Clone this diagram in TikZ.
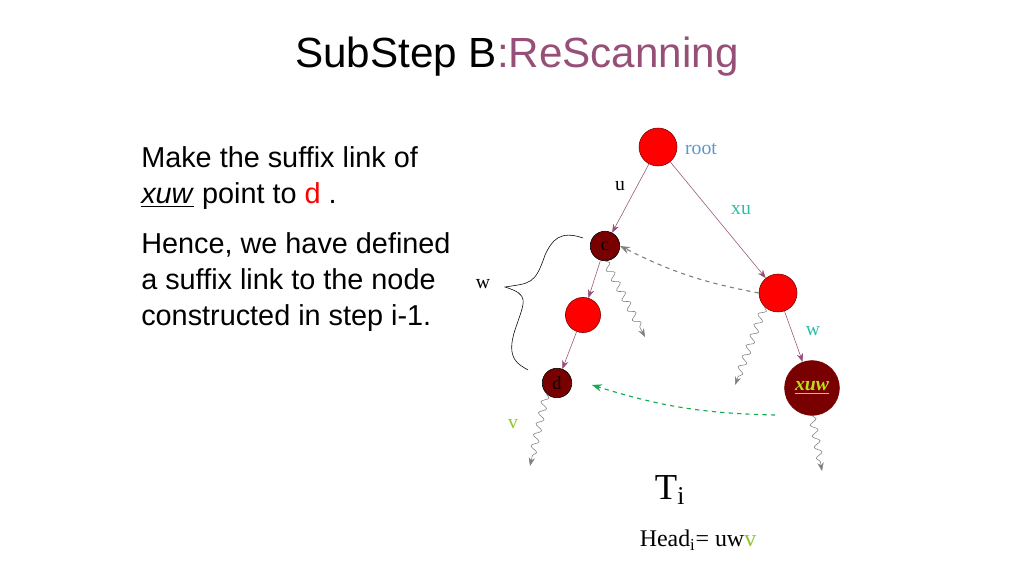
\documentclass[tikz,border=0pt]{standalone}
\usepackage{fontspec}
\setmainfont{Liberation Serif}
\newfontfamily\arial{Liberation Sans}
\usetikzlibrary{decorations.pathmorphing,arrows.meta}
\definecolor{edgecol}{RGB}{150,80,120}
\definecolor{dred}{RGB}{120,0,0}
\definecolor{rootblue}{RGB}{90,150,210}
\definecolor{tealc}{RGB}{40,190,170}
\definecolor{vgreen}{RGB}{140,200,40}
\definecolor{lgreen}{RGB}{20,170,80}
\tikzset{
  rnode/.style={circle,draw=dred,fill=red,inner sep=0pt,minimum size=27pt},
  dnode/.style={circle,draw=black,fill=dred,inner sep=0pt,minimum size=21pt,font=\fontsize{13}{13}\selectfont},
  edge/.style={draw=edgecol,-{Stealth[length=6pt]}},
  snake/.style={draw=gray,-{Stealth[length=6pt]},decorate,decoration={snake,amplitude=2.5pt,segment length=8pt,post length=6pt}},
  lbl/.style={font=\fontsize{14}{14}\selectfont},
  txt/.style={font=\arial\fontsize{20.5}{20.5}\selectfont,anchor=base west,inner sep=0pt}
}
\begin{document}
\begin{tikzpicture}[x=0.025cm,y=-0.025cm]
  \useasboundingbox (0,0) rectangle (1024,576);
  % title
  \node[font=\arial\fontsize{30}{30}\selectfont] (title) at (517,57) {SubStep B\textcolor{edgecol}{:ReScanning}};
  % left text
  \node[txt] (t1) at (141,168) {Make the suffix link of};
  \node[txt] (t2) at (141,204) {\underline{\textit{xuw}} point to \textcolor{red}{d} .};
  \node[txt] (t3) at (141,254) {Hence, we have defined};
  \node[txt] (t4) at (141,290) {a suffix link to the node};
  \node[txt] (t5) at (141,326) {constructed in step i-1.};

  % nodes
  \node[rnode] (root) at (658,147) {};
  \node[dnode] (c) at (605,246) {c};
  \node[rnode] (r) at (778,293) {};
  \node[rnode,minimum size=25pt] (m) at (583,315) {};
  \node[dnode] (d) at (557,383) {d};
  \node[circle,draw=dred,fill=dred,inner sep=0pt,minimum size=39pt,font=\fontsize{14}{14}\selectfont\itshape\bfseries,text=vgreen!60!yellow] (xuw) at (812,388) {\underline{xuw}};

  % edges
  \draw[edge] (root) -- (c);
  \draw[edge] (root) -- (r);
  \draw[edge] (c) -- (m);
  \draw[edge] (m) -- (d);
  \draw[edge] (r) -- (xuw);
  \draw[gray,thick,dashed,-{Stealth[length=7pt]}] (r.west) to[bend left=8] (c.east);
  \coordinate (gs) at (775,415);
  \coordinate (ge) at (592,385);
  \draw[lgreen,thick,dashed,-{Stealth[length=7pt]}] (gs) to[bend left=8] (ge);

  % subtrees
  \coordinate (s1) at (645,337);
  \coordinate (s2) at (735,385);
  \coordinate (s3) at (530,466);
  \coordinate (s4) at (822,471);
  \draw[snake] (c.south) -- (s1);
  \draw[snake] (r.south west) -- (s2);
  \draw[snake] (d.south west) -- (s3);
  \draw[snake] (xuw.south) -- (s4);

  % brace
  \draw (583,238) .. controls (560,230) and (552,240) .. (545,255)
        .. controls (535,285) and (530,283) .. (505,287)
        .. controls (530,295) and (525,300) .. (515,330)
        .. controls (505,360) and (520,365) .. (528,370);
  \node[lbl] (w1) at (483,284) {w};

  % labels
  \node[lbl,text=rootblue] (lroot) at (701,149) {root};
  \node[lbl] (lu) at (620,186) {u};
  \node[lbl,text=tealc] (lxu) at (741,210) {xu};
  \node[lbl,text=tealc] (lw) at (813,331) {w};
  \node[lbl,text=vgreen] (lv) at (513,424) {v};
  \node[font=\fontsize{26}{26}\selectfont] (ti) at (670,490) {T\textsubscript{i}};
  \node[font=\fontsize{17}{17}\selectfont] (head) at (698,540) {Head\textsubscript{i}= uw\textcolor{vgreen}{v}};
\end{tikzpicture}
\end{document}
